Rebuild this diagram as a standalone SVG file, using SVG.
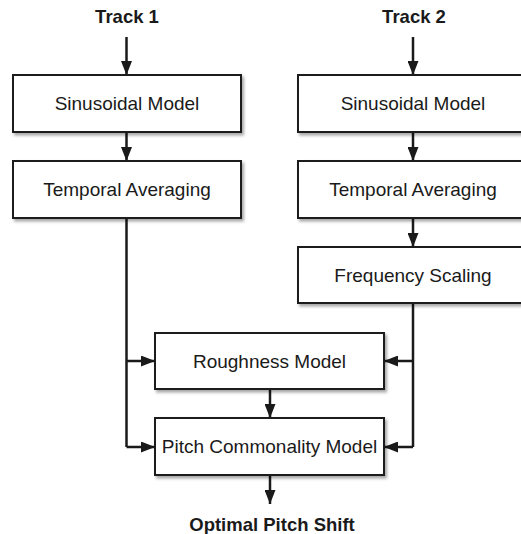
<svg xmlns="http://www.w3.org/2000/svg" width="521" height="534" viewBox="0 0 521 534">
<defs>
<filter id="sh" x="-10%" y="-10%" width="130%" height="140%">
<feDropShadow dx="2" dy="2.5" stdDeviation="1.5" flood-color="#000" flood-opacity="0.35"/>
</filter>
<marker id="ah" markerWidth="14" markerHeight="11" viewBox="0 0 14 11" refX="14" refY="5.5" markerUnits="userSpaceOnUse" orient="auto">
<path d="M0,0 L14,5.5 L0,11 Z" fill="#1a1a1a"/>
</marker>
<style>
.box{fill:#fff;stroke:#1a1a1a;stroke-width:2;filter:url(#sh)}
.t{font-family:"Liberation Sans",Arial,sans-serif;font-size:19px;fill:#1a1a1a;text-anchor:middle}
.b{font-family:"Liberation Sans",Arial,sans-serif;font-size:18.5px;font-weight:bold;fill:#1a1a1a;text-anchor:middle}
.c{fill:none;stroke:#1a1a1a;stroke-width:2.5}
.a{marker-end:url(#ah)}
</style>
</defs>
<rect width="521" height="534" fill="#fff"/>
<g id="connectors">
<line class="c a" x1="126.5" y1="37" x2="126.5" y2="75"/>
<line class="c a" x1="126.5" y1="132" x2="126.5" y2="161"/>
<line class="c a" x1="413" y1="37" x2="413" y2="75"/>
<line class="c a" x1="413" y1="132" x2="413" y2="161"/>
<line class="c a" x1="413" y1="218" x2="413" y2="247"/>
<polyline class="c" points="126.5,218 126.5,447"/>
<line class="c a" x1="126.5" y1="361" x2="155" y2="361"/>
<line class="c a" x1="126.5" y1="447" x2="155" y2="447"/>
<polyline class="c" points="413,303 413,447"/>
<line class="c a" x1="413" y1="361" x2="384" y2="361"/>
<line class="c a" x1="413" y1="447" x2="384" y2="447"/>
<line class="c a" x1="270" y1="389" x2="270" y2="418"/>
<line class="c a" x1="270" y1="475" x2="270" y2="504"/>
</g>
<g id="track1"><text class="b" x="127" y="23">Track 1</text></g>
<g id="track2"><text class="b" x="414" y="23">Track 2</text></g>
<g id="sin1"><rect class="box" x="13" y="75" width="228" height="57"/><text class="t" x="127" y="110">Sinusoidal Model</text></g>
<g id="tmp1"><rect class="box" x="13" y="161" width="228" height="57"/><text class="t" x="127" y="196">Temporal Averaging</text></g>
<g id="sin2"><rect class="box" x="298" y="75" width="228" height="57"/><text class="t" x="413" y="110">Sinusoidal Model</text></g>
<g id="tmp2"><rect class="box" x="298" y="161" width="228" height="57"/><text class="t" x="413" y="196">Temporal Averaging</text></g>
<g id="freq"><rect class="box" x="298" y="247" width="228" height="56"/><text class="t" x="413" y="282">Frequency Scaling</text></g>
<g id="rough"><rect class="box" x="155" y="333" width="229" height="56"/><text class="t" x="269.5" y="368">Roughness Model</text></g>
<g id="pitch"><rect class="box" x="155" y="418" width="229" height="57"/><text class="t" x="269.5" y="453">Pitch Commonality Model</text></g>
<g id="out"><text class="b" x="272" y="531">Optimal Pitch Shift</text></g>
</svg>
